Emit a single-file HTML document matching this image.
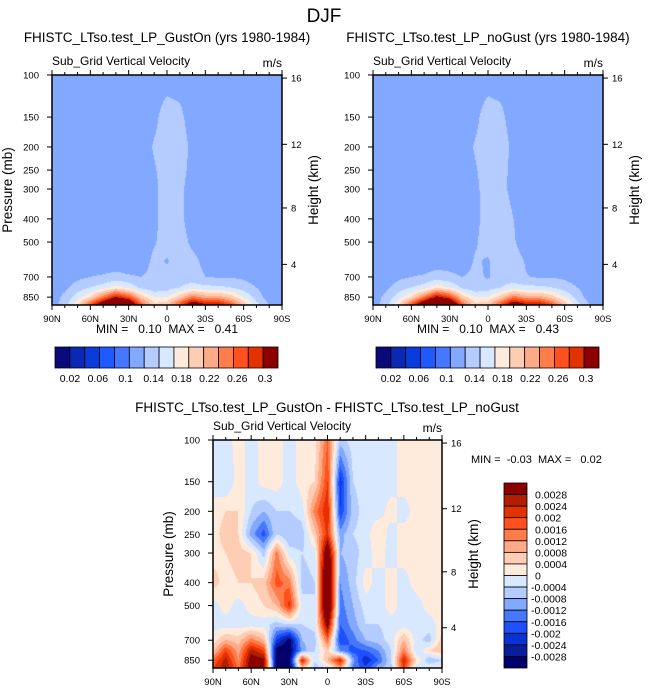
<!DOCTYPE html>
<html><head><meta charset="utf-8">
<style>
html,body{margin:0;padding:0;background:#fff;}
#root{position:relative;width:648px;height:694px;overflow:hidden;font-family:"Liberation Sans",sans-serif;}
canvas{position:absolute;}
svg{position:absolute;left:0;top:0;}
svg text{white-space:pre;}
</style></head>
<body>
<div id="root">
<canvas id="c1" width="230" height="230" style="left:52px;top:75px"></canvas>
<canvas id="c2" width="230" height="230" style="left:373px;top:75px"></canvas>
<canvas id="c3" width="229" height="228" style="left:213px;top:440px"></canvas>
<svg id="svg" width="648" height="694" xmlns="http://www.w3.org/2000/svg"></svg>
</div>
<script>
// ---- data ----
const lats = [90,80,70,60,50,40,30,20,10,0,-10,-20,-30,-40,-50,-60,-70,-80,-90];
const levels = [100,150,200,250,300,400,500,600,700,775,850,925];
const gustOn = [
 [.11,.11,.11,.11,.11,.11,.11,.11,.11,.11,.11,.11,.11,.11,.11,.11,.11,.11,.11],
 [.11,.11,.11,.11,.11,.11,.11,.11,.115,.13,.125,.11,.11,.11,.11,.11,.11,.11,.11],
 [.11,.11,.11,.11,.11,.11,.11,.11,.122,.13,.13,.115,.11,.11,.11,.11,.11,.11,.11],
 [.11,.11,.11,.11,.11,.11,.11,.11,.118,.13,.128,.113,.11,.11,.11,.11,.11,.11,.11],
 [.11,.11,.11,.11,.11,.11,.11,.11,.115,.13,.125,.11,.11,.11,.11,.11,.11,.11,.11],
 [.11,.11,.11,.11,.11,.11,.11,.11,.115,.13,.125,.11,.11,.11,.11,.11,.11,.11,.11],
 [.11,.11,.11,.11,.11,.11,.115,.11,.118,.13,.128,.116,.11,.11,.11,.11,.11,.11,.11],
 [.11,.11,.11,.11,.11,.11,.11,.11,.125,.118,.13,.125,.115,.11,.11,.11,.11,.11,.11],
 [.11,.11,.115,.12,.122,.125,.122,.12,.125,.128,.13,.128,.12,.118,.118,.116,.11,.11,.11],
 [.11,.115,.13,.14,.15,.17,.155,.135,.125,.13,.14,.15,.145,.145,.14,.13,.12,.11,.115],
 [.11,.125,.15,.18,.23,.28,.25,.19,.16,.16,.19,.23,.21,.21,.19,.16,.13,.11,.115],
 [.11,.13,.18,.26,.34,.41,.36,.25,.19,.2,.26,.33,.3,.3,.26,.2,.15,.12,.11]
];
const noGust = [
 [.11,.11,.11,.11,.11,.11,.11,.11,.11,.11,.11,.11,.11,.11,.11,.11,.11,.11,.11],
 [.11,.11,.11,.11,.11,.11,.11,.11,.115,.13,.125,.11,.11,.11,.11,.11,.11,.11,.11],
 [.11,.11,.11,.11,.11,.11,.11,.11,.122,.13,.13,.115,.11,.11,.11,.11,.11,.11,.11],
 [.11,.11,.11,.11,.11,.11,.11,.11,.118,.13,.128,.113,.11,.11,.11,.11,.11,.11,.11],
 [.11,.11,.11,.11,.11,.11,.11,.11,.115,.13,.125,.115,.11,.11,.11,.11,.11,.11,.11],
 [.11,.11,.11,.11,.11,.11,.11,.11,.115,.128,.13,.12,.11,.11,.11,.11,.11,.11,.11],
 [.11,.11,.11,.11,.11,.11,.115,.11,.118,.128,.13,.122,.11,.11,.11,.11,.11,.11,.11],
 [.11,.11,.11,.11,.11,.11,.112,.11,.122,.118,.13,.128,.118,.11,.11,.11,.11,.11,.11],
 [.11,.11,.115,.12,.122,.128,.124,.12,.124,.118,.13,.128,.121,.118,.118,.116,.11,.11,.11],
 [.11,.115,.13,.14,.15,.175,.16,.135,.125,.13,.14,.15,.145,.145,.14,.13,.12,.11,.115],
 [.11,.125,.15,.18,.23,.29,.26,.19,.16,.16,.19,.23,.21,.21,.19,.16,.13,.11,.115],
 [.11,.13,.18,.26,.35,.43,.37,.25,.19,.2,.26,.33,.3,.3,.26,.2,.15,.12,.11]
];
// difference values in units of 1e-4
const diffScale = 1e-4;
const diffVals = [
 [-2,-2,2,-2,2,2,-2,2,2,16,-6,-2,-2,-2,-2,2,2,2,2],
 [-2,-4,2,-2,2,2,-2,2,4,20,-22,-4,-2,-2,-2,2,2,2,2],
 [2,4,4,-4,-8,-4,-4,-2,14,24,-20,-6,-2,-2,2,-2,2,2,2],
 [2,6,4,-10,-18,-4,-8,-6,6,22,-10,-4,-2,4,-2,2,2,2,2],
 [2,4,6,4,-6,14,-2,-4,-2,38,-8,-6,-2,2,-2,2,2,2,2],
 [6,2,4,4,6,18,14,-6,-4,46,-12,-6,2,-2,2,-2,2,2,2],
 [-2,2,-2,2,4,8,22,-2,-4,46,-14,-8,-2,-2,2,-2,-2,2,2],
 [-2,-2,-2,-2,-2,-6,-4,-4,-2,32,-16,-10,-4,-4,-2,-2,-2,-2,2],
 [2,8,6,14,8,-20,-30,-8,-6,16,-20,-14,-8,-6,-2,8,-2,-6,6],
 [6,20,10,26,20,-32,-32,-10,-4,6,-12,-18,-16,-12,-4,14,-4,4,8],
 [16,26,12,32,30,-32,-32,24,-4,8,24,-10,-24,-16,-4,24,4,-8,-4],
 [20,28,16,32,30,-32,-32,6,-6,-4,10,-14,-18,-8,-6,20,-4,2,2]
];
const absLevels = [0.02,0.04,0.06,0.08,0.10,0.12,0.14,0.16,0.18,0.20,0.22,0.24,0.26,0.28];
const absColors = ["#0a0a78","#0a28b4","#0a3cdc","#1e5aff","#4678ff","#82a8ff","#b4ccff","#d7e8ff","#ffebdc","#ffcdb4","#ffaa87","#ff7d4b","#ff501e","#e13200","#8c0000"];
const diffLevels = [-28,-24,-20,-16,-12,-8,-4,0,4,8,12,16,20,24,28];
const diffColors = ["#03006e","#0a1e9a","#0a32d2","#1e50ff","#4678ff","#82a8ff","#b4ccff","#d7e8ff","#ffebdc","#ffcdb4","#ffaa87","#ff7d4b","#ff501e","#e13200","#b41e00","#8c0000"];
const absCbLabels = ["0.02","0.06","0.1","0.14","0.18","0.22","0.26","0.3"];
const diffCbLabels = ["0.0028","0.0024","0.002","0.0016","0.0012","0.0008","0.0004","0","-0.0004","-0.0008","-0.0012","-0.0016","-0.002","-0.0024","-0.0028"];
const pTicks = [100,150,200,250,300,400,500,700,850];
const hTicks = [16,12,8,4];
const hTickP = [103,195,360,620];
const latTicks = [90,60,30,0,-30,-60,-90];
const latTickLabels = ["90N","60N","30N","0","30S","60S","90S"];

// ---- scales ----
const pTop = 100, pBot = 917;
function yScale(p, y0, h){ return y0 + h*Math.log(p/pTop)/Math.log(pBot/pTop); }
function xScale(lat, x0, w){ return x0 + w*(90-lat)/180; }
function hexRgb(h){ return [parseInt(h.substr(1,2),16),parseInt(h.substr(3,2),16),parseInt(h.substr(5,2),16)]; }
function sample(grid, lat, p){
  let fx = (90-lat)/10; let i = Math.min(Math.floor(fx), lats.length-2); let tx = fx-i;
  let lp = Math.log(p); let j = 0;
  while(j < levels.length-2 && Math.log(levels[j+1]) < lp) j++;
  let ty = (lp-Math.log(levels[j]))/(Math.log(levels[j+1])-Math.log(levels[j]));
  ty = Math.max(0, Math.min(1, ty));
  let a = grid[j][i]*(1-tx)+grid[j][i+1]*tx;
  let b = grid[j+1][i]*(1-tx)+grid[j+1][i+1]*tx;
  return a*(1-ty)+b*ty;
}
function drawField(id, grid, lv, cols){
  const c = document.getElementById(id), ctx = c.getContext('2d');
  const W = c.width, H = c.height, img = ctx.createImageData(W,H);
  const rgb = cols.map(hexRgb);
  for(let y=0;y<H;y++){
    const p = pTop*Math.exp((y+0.5)/H*Math.log(pBot/pTop));
    for(let x=0;x<W;x++){
      const lat = 90-180*(x+0.5)/W;
      const v = sample(grid, lat, p);
      let k = 0; while(k<lv.length && v>=lv[k]) k++;
      const o=(y*W+x)*4, cc=rgb[k];
      img.data[o]=cc[0];img.data[o+1]=cc[1];img.data[o+2]=cc[2];img.data[o+3]=255;
    }
  }
  ctx.putImageData(img,0,0);
}
drawField('c1', gustOn, absLevels, absColors);
drawField('c2', noGust, absLevels, absColors);
drawField('c3', diffVals, diffLevels, diffColors);

// ---- svg ----
const svg = document.getElementById('svg');
const NS = "http://www.w3.org/2000/svg";
function el(tag, attrs, text){
  const e = document.createElementNS(NS, tag);
  for(const k in attrs) e.setAttribute(k, attrs[k]);
  if(text!==undefined) e.textContent = text;
  svg.appendChild(e); return e;
}
function txt(x,y,s,size,anchor,name){
  const t = el('text',{x:x,y:y,'font-size':size,'text-anchor':anchor||'middle',fill:'#000','font-family':'Liberation Sans, sans-serif','xml:space':'preserve'},s);
  
  
  return t;
}
function panel(x0,y0,w,h,title,prefix,showP){
  if(title){ txt(x0+w/2, y0-33, title, 13.5, 'middle', prefix+'-title'); }
  txt(x0, y0-10, 'Sub_Grid Vertical Velocity', 12, 'start', prefix+'-subtitle');
  txt(x0+w, y0-8, 'm/s', 12, 'end', prefix+'-units');
  const fr = el('rect',{x:x0,y:y0,width:w,height:h,fill:'none',stroke:'#000','stroke-width':1.5});
  
  
  for(let lat=90; lat>=-90; lat-=10){
    const x = xScale(lat,x0,w), major = (lat%30===0);
    const L = major?5:3;
    el('line',{x1:x,y1:y0,x2:x,y2:y0-L,stroke:'#000','stroke-width':1});
    el('line',{x1:x,y1:y0+h,x2:x,y2:y0+h+L,stroke:'#000','stroke-width':1});
  }
  latTicks.forEach((lat,i)=>{ txt(xScale(lat,x0,w), y0+h+17, latTickLabels[i], 9.5, 'middle', prefix+'-x-tick-label'); });
  pTicks.forEach(p=>{
    const y = yScale(p,y0,h);
    el('line',{x1:x0-5,y1:y,x2:x0,y2:y,stroke:'#000','stroke-width':1});
    txt(x0-13, y+3.5, String(p), 9.5, 'end', prefix+'-y-tick-label');
  });
  hTicks.forEach((hk,i)=>{
    const y = yScale(hTickP[i],y0,h);
    el('line',{x1:x0+w,y1:y,x2:x0+w+5,y2:y,stroke:'#000','stroke-width':1});
    txt(x0+w+9, y+3.5, String(hk), 9.5, 'start', prefix+'-height-tick-label');
  });
  if(showP){
    const yl = txt(0,0,'Pressure (mb)',13.5,'middle',prefix+'-y-axis-title');
    yl.setAttribute('transform','translate('+(x0-40)+','+(y0+h/2)+') rotate(-90)');
  }
  const hl = txt(0,0,'Height (km)',13.5,'middle',prefix+'-height-axis-title');
  hl.setAttribute('transform','translate('+(x0+w+36)+','+(y0+h/2)+') rotate(-90)');
}
function hColorbar(x0,y0,w,h,prefix){
  const n = absColors.length, bw = w/n;
  absColors.forEach((c,i)=>{
    const r = el('rect',{x:x0+i*bw,y:y0,width:bw,height:h,fill:c,stroke:'#000','stroke-width':0.8});
    
    
  });
  absCbLabels.forEach((s,i)=>{ txt(x0+w*(0.067+0.125*i), y0+h+14, s, 10.5, 'middle', prefix+'-colorbar-label'); });
}
// titles
txt(324, 22, 'DJF', 19, 'middle', 'figure-title');
panel(52,75,230,230,'FHISTC_LTso.test_LP_GustOn (yrs 1980-1984)','gust-on',true);
panel(373,75,230,230,'FHISTC_LTso.test_LP_noGust (yrs 1980-1984)','no-gust',false);
txt(167, 333, 'MIN =   0.10  MAX =   0.41', 12, 'middle', 'gust-on-min-max');
txt(488, 333, 'MIN =   0.10  MAX =   0.43', 12, 'middle', 'no-gust-min-max');
hColorbar(55,347,223,21,'gust-on');
hColorbar(376,347,223,21,'no-gust');
panel(213,440,229,228,'','difference',true);
txt(327, 412, 'FHISTC_LTso.test_LP_GustOn - FHISTC_LTso.test_LP_noGust', 13.5, 'middle', 'difference-title');
txt(471, 463, 'MIN =  -0.03  MAX =   0.02', 11, 'start', 'difference-min-max');
// vertical colorbar
(function(){
  const x0=504,y0=483,w=23,h=185,n=diffColors.length,bh=h/n;
  for(let i=0;i<n;i++){
    const r = el('rect',{x:x0,y:y0+i*bh,width:w,height:bh,fill:diffColors[n-1-i],stroke:'#000','stroke-width':0.8});
    
    
  }
  diffCbLabels.forEach((s,i)=>{ txt(x0+w+4+(s.charAt(0)==='-'?0:4), y0+(i+1)*bh+4, s, 10.5, 'start', 'difference-colorbar-label'); });
})();
</script>
</body></html>
